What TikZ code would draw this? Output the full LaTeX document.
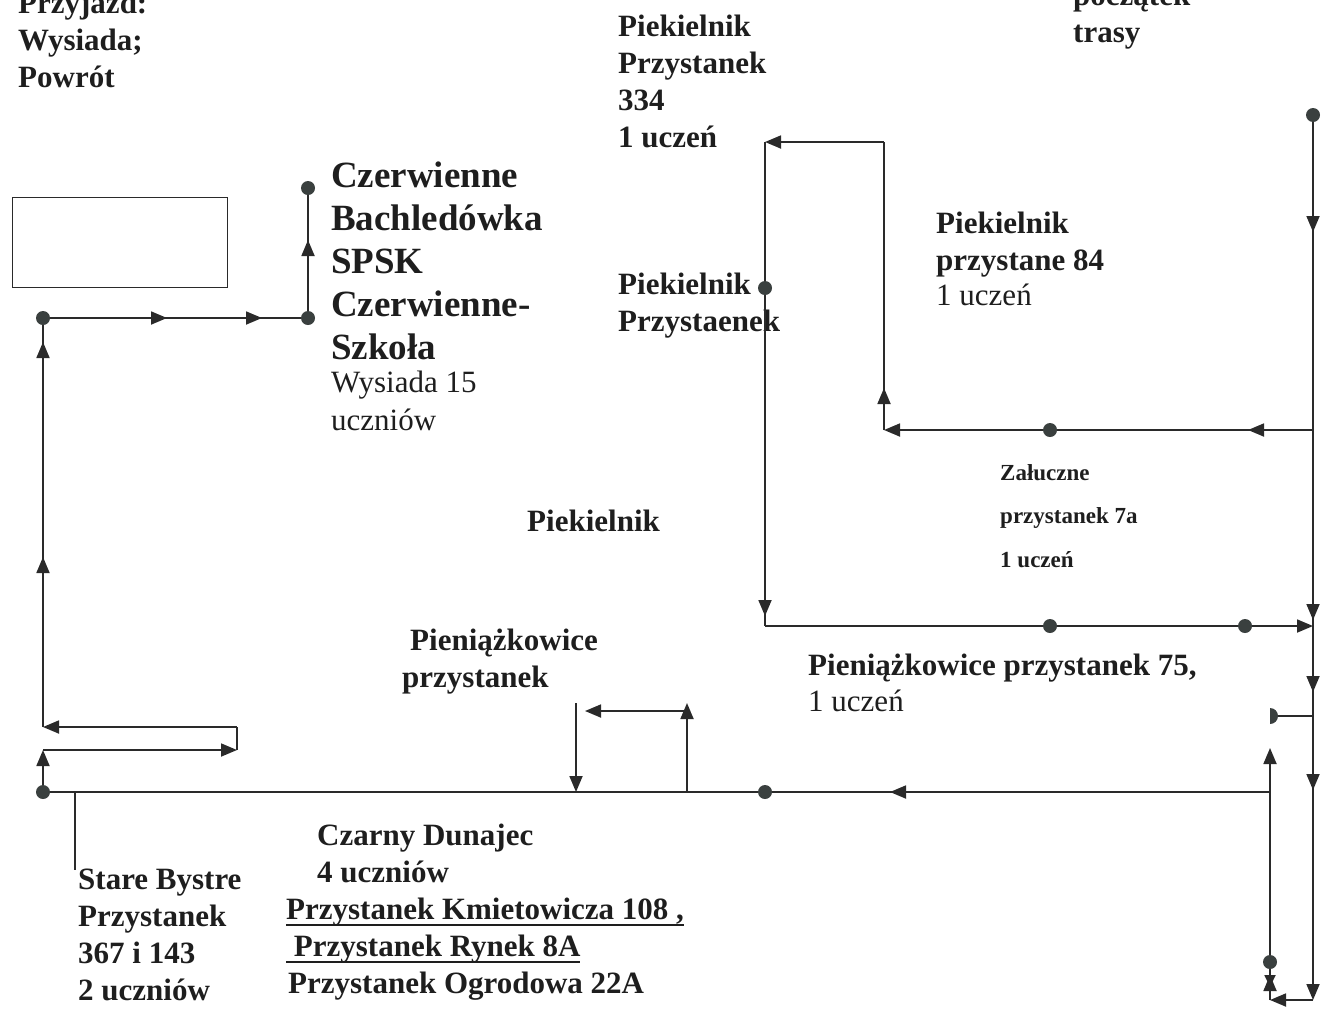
\documentclass[tikz,border=0pt]{standalone}
\usepackage{fontspec}
\setmainfont{Liberation Serif}
\usetikzlibrary{arrows.meta, decorations.markings}
\definecolor{linec}{HTML}{2A2A2A}
\definecolor{dotc}{HTML}{3A403F}
\definecolor{textc}{HTML}{1E1E1E}
\newcommand{\ulstop}[1]{\setbox0\hbox{#1}\rlap{\rule[-7pt]{\wd0}{1.8pt}}\box0}
\tikzset{
    route/.style={draw=linec, line width=1.8pt},
    tipend/.style={-{Triangle[length=16pt, width=13pt]}},
    tipat/.style={postaction={decorate, decoration={markings, mark=at position #1 with {\arrow{Triangle[length=16pt, width=13pt]}}}}},
    tipback/.style={postaction={decorate, decoration={markings, mark=at position #1 with {\arrow{Triangle[length=12pt, width=11pt, reversed]}}}}},
    stopdot/.style={circle, fill=dotc, inner sep=0pt, minimum size=14pt},
    lbl/.style={anchor=base west, inner sep=0pt, align=left, text=textc, font=\bfseries\fontsize{31}{37}\selectfont},
    biglbl/.style={lbl, font=\bfseries\fontsize{37}{43}\selectfont},
    reglbl/.style={lbl, font=\fontsize{31}{38}\selectfont},
    smalllbl/.style={lbl, font=\bfseries\fontsize{23}{43.5}\selectfont}
}

\begin{document}
\begin{tikzpicture}[x=1pt, y=-1pt]
\useasboundingbox (0,0) rectangle (1321,1010);

% labels (placed at the baseline of the last line)
\node[lbl] (arrival) at (18,87) {Przyjazd:\\Wysiada;\\Powrót};
\node[lbl] (routestart) at (1073,42) {początek\\trasy};
\node[lbl] (pk334) at (618,147) {Piekielnik\\Przystanek\\334\\1 uczeń};
\node[biglbl] (czerw) at (331,359) {Czerwienne\\Bachledówka\\SPSK\\Czerwienne-\\Szkoła};
\node[reglbl] (czerwnote) at (331,430) {Wysiada 15\\uczniów};
\node[lbl] (pk84) at (936,270) {Piekielnik\\przystane 84};
\node[reglbl] (pk84note) at (936,305) {1 uczeń};
\node[lbl] (pkstop) at (618,331) {Piekielnik\\Przystaenek};
\node[lbl] (pkmid) at (527,531) {Piekielnik};
\node[smalllbl] (zal) at (1000,567) {Załuczne\\przystanek 7a\\1 uczeń};
\node[lbl] (pien) at (402,687) {\hspace*{8pt}Pieniążkowice\\przystanek};
\node[lbl] (pien75) at (808,675) {Pieniążkowice przystanek 75,};
\node[reglbl] (pien75note) at (808,711) {1 uczeń};
\node[lbl] (czd) at (286,993) {\hspace*{31pt}Czarny Dunajec\\\hspace*{31pt}4 uczniów\\\ulstop{Przystanek Kmietowicza 108 ,}\\\ulstop{ Przystanek Rynek 8A}\\\hspace*{2pt}Przystanek Ogrodowa 22A};
\node[lbl] (sb) at (78,1000) {Stare Bystre\\Przystanek\\367 i 143\\2 uczniów};

% bus
\node[draw=linec, line width=1.3pt, inner sep=0pt, minimum width=215pt, minimum height=90pt, anchor=north west] (bus) at (12,197) {};

% points
\coordinate (sb0) at (43,792);
\coordinate (sbjoin) at (75,792);
\coordinate (sbtick) at (75,870);
\coordinate (lp1) at (43,750);
\coordinate (lp2) at (237,750);
\coordinate (lp3) at (237,727);
\coordinate (lp4) at (43,727);
\coordinate (lft) at (43,318);
\coordinate (sch) at (308,318);
\coordinate (bach) at (308,188);
\coordinate (bjoin) at (1270,792);
\coordinate (cd) at (765,792);
\coordinate (pa) at (687,792);
\coordinate (pb) at (687,703);
\coordinate (pc) at (687,711);
\coordinate (pd) at (585,711);
\coordinate (pe) at (576,703);
\coordinate (pf) at (576,792);
\coordinate (r0) at (1313,115);
\coordinate (rbot) at (1313,1000);
\coordinate (z0) at (1313,430);
\coordinate (z1) at (1050,430);
\coordinate (z2) at (884,430);
\coordinate (k1) at (884,142);
\coordinate (k2) at (765,142);
\coordinate (k3) at (765,626);
\coordinate (kdot) at (765,288);
\coordinate (p1) at (1050,626);
\coordinate (p2) at (1245,626);
\coordinate (p3) at (1313,626);
\coordinate (q0) at (1313,716);
\coordinate (q1) at (1270,716);
\coordinate (q2) at (1270,748);
\coordinate (q3) at (1270,1000);
\coordinate (qdot) at (1270,962);

% route to school
\draw[route, tipat=380pt] (bjoin) -- (sb0);
\draw[route] (sbjoin) -- (sbtick);
\draw[route, tipend] (sb0) -- (lp1);
\draw[route, tipend] (lp1) -- (lp2);
\draw[route] (lp2) -- (lp3);
\draw[route, tipend] (lp3) -- (lp4);
\draw[route, tipat=170pt, tipat=385pt] (lp4) -- (lft);
\draw[route, tipat=124pt, tipat=219pt] (lft) -- (sch);
\draw[route, tipat=78pt] (sch) -- (bach);
\draw[route, tipend] (pa) -- (pb);
\draw[route, tipend] (pc) -- (pd);
\draw[route, tipend] (pe) -- (pf);

% start of the route
\draw[route, tipat=117pt, tipat=505pt, tipat=577pt, tipat=675pt, tipend] (r0) -- (rbot);
\draw[route, tipat=65pt, tipend] (z0) -- (z2);
\draw[route, tipat=42pt] (z2) -- (k1);
\draw[route, tipend] (k1) -- (k2);
\draw[route, tipat=474pt] (k2) -- (k3);
\draw[route, tipend] (k3) -- (p3);
\draw[route] (q0) -- (q1);
\draw[route, tipend] (rbot) -- (q3);
\draw[route, tipat=25pt, tipback=25pt, tipend] (q3) -- (q2);
\begin{scope}
\clip (1270,700) rectangle (1290,732);
\fill[dotc] (q1) circle (8pt);
\end{scope}

% stops
\foreach \p in {sb0, lft, sch, bach, cd, r0, z1, kdot, p1, p2, qdot}
    \node[stopdot] (dot-\p) at (\p) {};
\end{tikzpicture}
\end{document}
